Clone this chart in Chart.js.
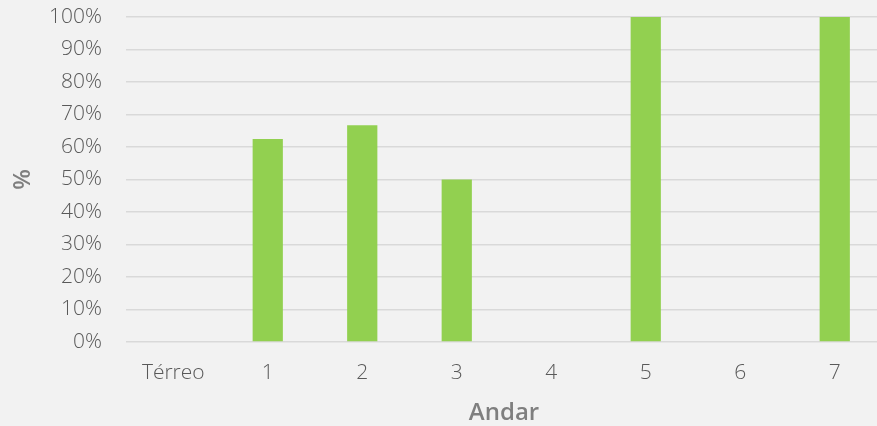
<!DOCTYPE html>
<html>
<head>
<meta charset="utf-8">
<script src="https://cdn.jsdelivr.net/npm/chart.js@4"></script>
<style>
    html, body { margin: 0; padding: 0; background: #f2f2f2; overflow: hidden; }
    #wrap { width: 882px; height: 426px; }
</style>
</head>
<body>
<div id="wrap"><canvas id="andarChart" width="882" height="426"></canvas></div>
<script>
    // Andares e percentuais
    const andares = ['Térreo', '1', '2', '3', '4', '5', '6', '7'];
    const percentuais = [0, 62.5, 66.7, 50, 0, 100, 0, 100];
    const yTicks = [0, 10, 20, 30, 40, 50, 60, 70, 80, 90, 100];

    const fonte = '"Open Sans", Lato, sans-serif';

    const andarData = {
        labels: andares,
        datasets: [{
            label: '%',
            data: percentuais,
            backgroundColor: '#92d050',
            borderWidth: 0,
            categoryPercentage: 0.8,
            barPercentage: 0.4
        }]
    };

    const andarConfig = {
        type: 'bar',
        data: andarData,
        options: {
            responsive: false,
            animation: false,
            layout: { padding: 0 },
            plugins: {
                legend: { display: false },
                tooltip: { enabled: false }
            },
            scales: {
                x: {
                    offset: true,
                    grid: { display: false },
                    border: { display: false },
                    ticks: {
                        color: '#595959',
                        padding: 10,
                        font: { family: fonte, size: 21, weight: 300 }
                    },
                    title: {
                        display: true,
                        text: 'Andar',
                        color: '#7f7f7f',
                        padding: { top: 0, bottom: -2 },
                        font: { family: fonte, size: 24, weight: 600 }
                    },
                    afterFit: function (axis) { axis.height = 84; }
                },
                y: {
                    min: 0,
                    max: 100,
                    afterBuildTicks: function (axis) {
                        axis.ticks = yTicks.map(v => ({ value: v }));
                    },
                    grid: { color: '#d9d9d9', lineWidth: 1.5, drawTicks: false },
                    border: { display: false },
                    ticks: {
                        color: '#595959',
                        padding: 24,
                        font: { family: fonte, size: 21, weight: 300 },
                        callback: function (v) { return v + '%'; }
                    },
                    title: {
                        display: true,
                        text: '%',
                        color: '#7f7f7f',
                        padding: { top: 9, bottom: 0 },
                        font: { family: fonte, size: 24, weight: 600 }
                    },
                    afterFit: function (axis) {
                        axis.width = 126;
                        axis.paddingTop = 17;
                        axis.paddingBottom = 0;
                    }
                }
            }
        }
    };

    const ctx = document.getElementById('andarChart').getContext('2d');
    new Chart(ctx, andarConfig);
</script>
</body>
</html>
